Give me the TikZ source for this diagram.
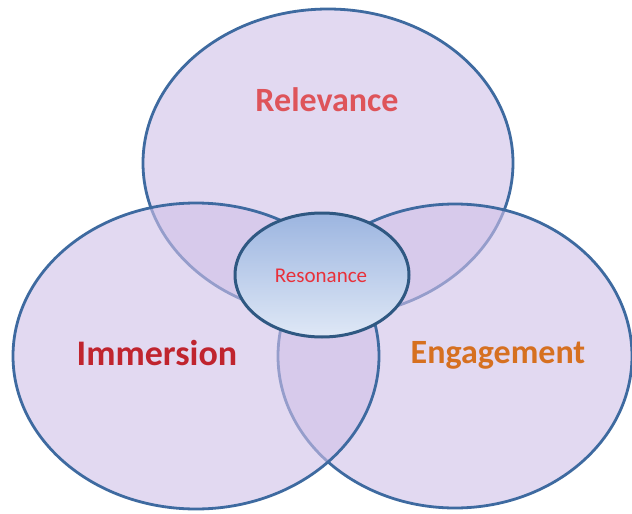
\documentclass[tikz,border=0pt]{standalone}
\usepackage{fontspec}
\setmainfont{Carlito}
\usetikzlibrary{shapes.geometric}
\begin{document}
\begin{tikzpicture}[x=1pt,y=-1pt,
  petal/.style={ellipse, inner sep=0pt, draw=petalline, line width=2.8pt, fill=petalfill, fill opacity=0.6, draw opacity=1},
  core/.style={ellipse, inner sep=0pt, draw=coreline, line width=3pt, top color=coretop, bottom color=corebot},
  lbl/.style={font=\bfseries, inner sep=0pt, anchor=base}]
\definecolor{petalfill}{RGB}{208,192,232}
\definecolor{petalline}{RGB}{62,106,160}
\definecolor{coreline}{RGB}{47,88,130}
\definecolor{coretop}{RGB}{156,181,224}
\definecolor{corebot}{RGB}{223,232,246}
\definecolor{relred}{RGB}{222,84,90}
\definecolor{immred}{RGB}{192,36,46}
\definecolor{engor}{RGB}{214,112,32}
\definecolor{resred}{RGB}{232,48,58}
\useasboundingbox (0,0) rectangle (632,514);
\fill[white] (0,0) rectangle (632,514);
% circles
\node[petal, minimum width=370pt, minimum height=308pt] (top) at (328,163) {};
\node[petal, minimum width=354pt, minimum height=304pt] (right) at (455,356) {};
\node[petal, minimum width=366pt, minimum height=306pt] (left) at (196,356) {};
% centre
\node[core, minimum width=174pt, minimum height=124pt] (res) at (322,275) {};
% labels
\node[lbl, text=relred] (rel) at (327,111) {\fontsize{34}{36}\selectfont Relevance};
\node[lbl, text=immred] (imm) at (157,365) {\fontsize{36}{38}\selectfont Immersion};
\node[lbl, text=engor] (eng) at (498,363) {\fontsize{34}{36}\selectfont Engagement};
\node[inner sep=0pt, anchor=base, text=resred, font=\fontsize{21}{23}\selectfont] (reslbl) at (321,282) {Resonance};
\end{tikzpicture}
\end{document}
